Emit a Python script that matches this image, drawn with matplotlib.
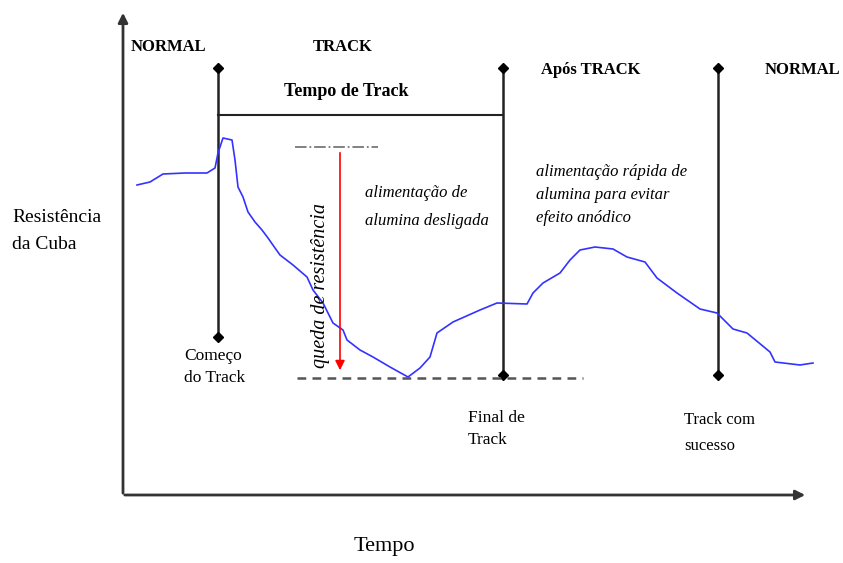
import matplotlib.pyplot as plt

# resistance curve, in picture units (x = tempo, y = resistencia, y grows downward)
curve_x = [137, 150, 163, 185, 207, 215, 218, 223, 232, 235, 238, 243, 248, 255, 262,
           268, 275, 280, 293, 307, 313, 323, 333, 343, 347, 360, 373, 390, 408, 420,
           430, 437, 453, 480, 497, 527, 533, 543, 560, 570, 580, 595, 613, 627, 645,
           657, 677, 700, 717, 733, 747, 770, 775, 800, 813]
curve_y = [185, 182, 174, 173, 173, 168, 153, 138, 140, 160, 187, 197, 212, 222, 230,
           238, 248, 255, 265, 277, 290, 303, 323, 330, 340, 350, 357, 367, 377, 368,
           357, 333, 322, 310, 303, 304, 293, 283, 273, 260, 250, 247, 249, 257, 262,
           278, 293, 309, 313, 329, 333, 352, 362, 365, 363]

# event markers: x position, top and bottom
event_x = [218, 503, 718]
event_top = [68, 68, 68]
event_bottom = [337, 375, 375]

SERIF = "Liberation Serif"

fig = plt.figure(figsize=(8.43, 5.63), dpi=100)
ax = fig.add_axes([0, 0, 1, 1])
ax.set_xlim(0, 843)
ax.set_ylim(563, 0)
ax.axis("off")

# axes arrows
ax.annotate("", xy=(123, 10), xytext=(123, 496),
            arrowprops=dict(arrowstyle="-|>", color="#333333", lw=2, mutation_scale=14))
ax.annotate("", xy=(808, 495), xytext=(122, 495),
            arrowprops=dict(arrowstyle="-|>", color="#333333", lw=2, mutation_scale=14))

# event lines with diamond ends
for x, t, b in zip(event_x, event_top, event_bottom):
    ax.plot([x, x], [t, b], color="#222222", lw=1.8)
    ax.plot([x, x], [t, b], ls="none", marker="D", ms=5, color="black")

# tempo de track bar
ax.plot([event_x[0], event_x[1]], [115, 115], color="#222222", lw=1.5)

# reference levels
ax.plot([295, 378], [147, 147], color="#777777", lw=1.3, ls="-.")
ax.plot([297, 583], [378, 378], color="#555555", lw=1.8, ls=(0, (3.5, 2.5)))

# resistance drop arrow
ax.annotate("", xy=(340, 373), xytext=(340, 150),
            arrowprops=dict(arrowstyle="-|>", color="red", lw=1.2, mutation_scale=14))

ax.plot(curve_x, curve_y, color="#3333ff", lw=1.2)

bold = dict(family=SERIF, weight="bold", fontsize=12, ha="center", va="center")
ax.text(168, 47, "NORMAL", **bold)
ax.text(343, 47, "TRACK", **bold)
ax.text(346, 92, "Tempo de Track", family=SERIF, weight="bold", fontsize=13,
        ha="center", va="center")
ax.text(591, 70, "Após TRACK", **bold)
ax.text(802, 70, "NORMAL", **bold)

ax.text(12, 231, "Resistência\nda Cuba", family=SERIF, fontsize=14, ha="left",
        va="center", linespacing=1.75)
ax.text(184, 367, "Começo\ndo Track", family=SERIF, fontsize=12.5, ha="left",
        va="center", linespacing=1.55)
ax.text(468, 429, "Final de\nTrack", family=SERIF, fontsize=12.5, ha="left",
        va="center", linespacing=1.5)
ax.text(684, 433, "Track com\nsucesso", family=SERIF, fontsize=12, ha="left",
        va="center", linespacing=1.85)
ax.text(384, 547, "Tempo", family=SERIF, fontsize=16, ha="center", va="center")

ax.text(365, 207, "alimentação de\nalumina desligada", family=SERIF, style="italic",
        fontsize=12, ha="left", va="center", linespacing=1.95)
ax.text(536, 195, "alimentação rápida de\nalumina para evitar\nefeito anódico",
        family=SERIF, style="italic", fontsize=12, ha="left", va="center",
        linespacing=1.6)
ax.text(321, 285, "queda de resistência", family=SERIF, style="italic", fontsize=14.5,
        rotation=90, ha="center", va="center")

fig.savefig("out.png", dpi=100)
